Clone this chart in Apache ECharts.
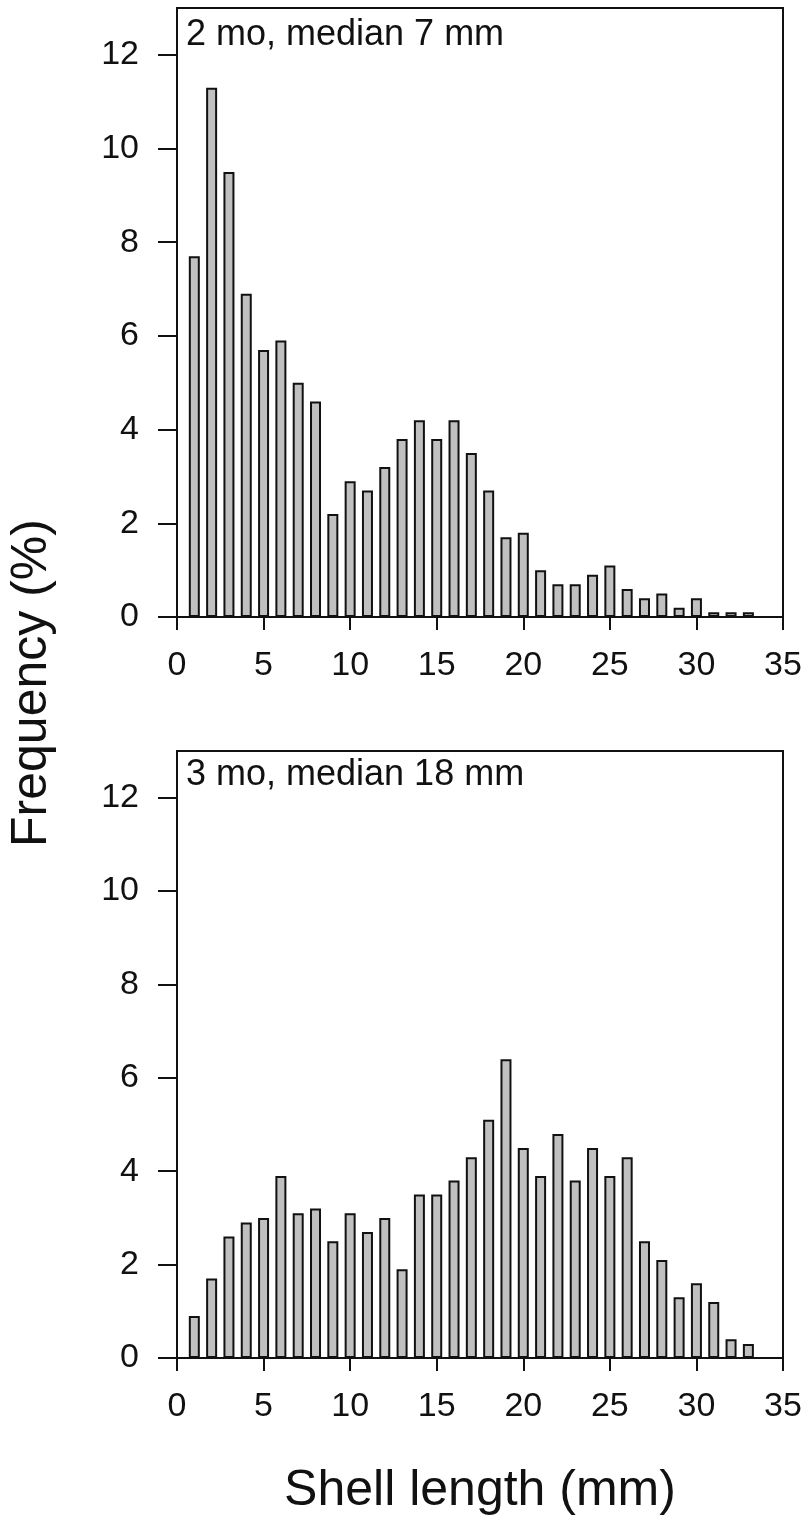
<!DOCTYPE html>
<html>
<head>
<meta charset="utf-8">
<script src="https://cdn.jsdelivr.net/npm/echarts@6/dist/echarts.min.js"></script>
<style>
html,body{margin:0;padding:0;background:#fff;}
#c{width:807px;height:1516px;}
</style>
</head>
<body>
<div id="c"></div>
<script>
// Data
const lengths = [1,2,3,4,5,6,7,8,9,10,11,12,13,14,15,16,17,18,19,20,21,22,23,24,25,26,27,28,29,30,31,32,33];
const freq2mo = [7.7,11.3,9.5,6.9,5.7,5.9,5.0,4.6,2.2,2.9,2.7,3.2,3.8,4.2,3.8,4.2,3.5,2.7,1.7,1.8,1.0,0.7,0.7,0.9,1.1,0.6,0.4,0.5,0.2,0.4,0.1,0.1,0.1];
const freq3mo = [0.9,1.7,2.6,2.9,3.0,3.9,3.1,3.2,2.5,3.1,2.7,3.0,1.9,3.5,3.5,3.8,4.3,5.1,6.4,4.5,3.9,4.8,3.8,4.5,3.9,4.3,2.5,2.1,1.3,1.6,1.2,0.4,0.3];
const yTicks = [0,2,4,6,8,10,12];
const xTicks = [0,5,10,15,20,25,30,35];
const panelTitles = ['2 mo, median 7 mm', '3 mo, median 18 mm'];
const yTitle = 'Frequency (%)';
const xTitle = 'Shell length (mm)';

const FONT = '"Liberation Sans", Arial, Helvetica, sans-serif';
const chart = echarts.init(document.getElementById('c'), null, {renderer:'canvas'});

function xAx(i){
  return {
    gridIndex:i, type:'value', min:0, max:35, interval:5,
    axisLine:{show:true, onZero:false, lineStyle:{color:'#111', width:2}},
    axisTick:{show:true, length:13, customValues:xTicks, lineStyle:{color:'#111', width:2}},
    axisLabel:{show:true, margin:32, fontSize:34, color:'#111', fontFamily:FONT, customValues:xTicks},
    splitLine:{show:false}
  };
}
function yAx(i){
  return {
    gridIndex:i, type:'value', min:0, max:13,
    axisLine:{show:true, onZero:false, lineStyle:{color:'#111', width:2}},
    axisTick:{show:true, length:19, customValues:yTicks, lineStyle:{color:'#111', width:2}},
    axisLabel:{show:true, margin:38, fontSize:34, color:'#111', fontFamily:FONT, customValues:yTicks},
    splitLine:{show:false}
  };
}
function barSeries(i, vals){
  return {
    type:'bar', xAxisIndex:i, yAxisIndex:i,
    data: lengths.map((x,k)=>[x, vals[k]]),
    barWidth:11,
    itemStyle:{color:'#c0c0c0', borderColor:'#111', borderWidth:2},
    silent:true, animation:false
  };
}

chart.setOption({
  animation:false,
  backgroundColor:'#fff',
  grid:[
    {left:177, right:24, top:8, height:609, show:true, borderColor:'#111', borderWidth:2, backgroundColor:'transparent'},
    {left:177, right:24, top:751, height:607, show:true, borderColor:'#111', borderWidth:2, backgroundColor:'transparent'}
  ],
  xAxis:[xAx(0), xAx(1)],
  yAxis:[yAx(0), yAx(1)],
  series:[barSeries(0, freq2mo), barSeries(1, freq3mo)],
  graphic:[
    {type:'text', left:186, top:17, style:{text:panelTitles[0], fontSize:36, fill:'#111', fontFamily:FONT}},
    {type:'text', left:186, top:757, style:{text:panelTitles[1], fontSize:36, fill:'#111', fontFamily:FONT}},
    {type:'text', x:32, y:683, rotation:Math.PI/2, style:{text:yTitle, fontSize:50, fill:'#111', fontFamily:FONT, align:'center', verticalAlign:'middle'}},
    {type:'text', x:480, y:1491, style:{text:xTitle, fontSize:50, fill:'#111', fontFamily:FONT, align:'center', verticalAlign:'middle'}}
  ]
});
</script>
</body>
</html>
